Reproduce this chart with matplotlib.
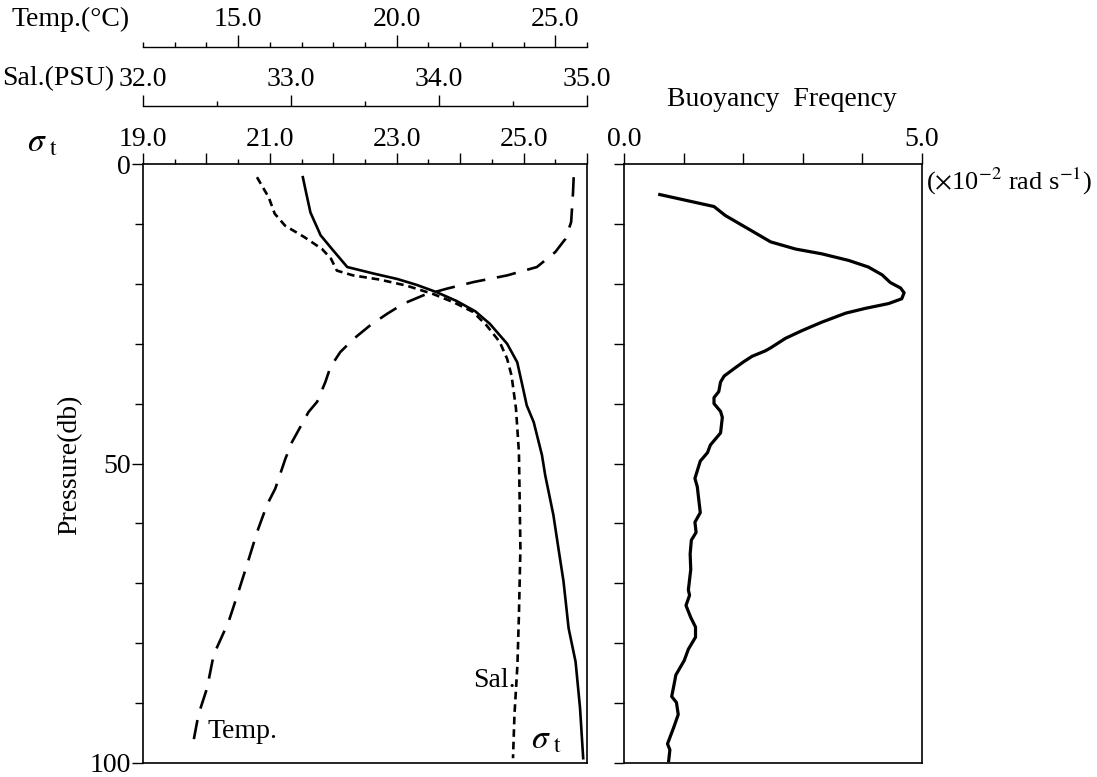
import matplotlib
matplotlib.use('Agg')
import matplotlib.pyplot as plt
from matplotlib.ticker import MultipleLocator

plt.rcParams['font.family'] = ['Liberation Serif', 'DejaVu Serif']
plt.rcParams['mathtext.fontset'] = 'stix'
plt.rcParams['lines.scale_dashes'] = False

# ---------------- data ----------------
sigma_depth = [2.2, 4.7, 8.1, 11.9, 14.2, 17.2, 18.3, 19.2, 20.2, 21.4, 22.9, 24.6, 26.7,
               30.0, 33.1, 36.9, 40.3, 43.1, 48.6, 51.9, 58.6, 64.2, 69.7, 77.5, 83.1, 90.8, 99.2]
sigma_val = [21.52, 21.57, 21.64, 21.80, 21.98, 22.22, 22.64, 23.01, 23.32, 23.63, 23.95, 24.24, 24.47,
             24.74, 24.90, 24.98, 25.05, 25.16, 25.29, 25.34, 25.47, 25.55, 25.63, 25.71, 25.82, 25.89, 25.94]

sal_depth = [2.2, 5.6, 8.3, 10.3, 12.2, 14.2, 15.8, 17.8, 18.6, 19.3, 20.3, 21.7, 23.1, 24.7, 26.9,
             29.7, 32.5, 35.3, 40.8, 48.1, 64.2, 75.3, 83.6, 91.9, 99.2]
sal_val = [32.77, 32.85, 32.89, 32.96, 33.09, 33.21, 33.27, 33.31, 33.42, 33.60, 33.78, 33.96, 34.10,
           34.23, 34.32, 34.41, 34.46, 34.49, 34.52, 34.54, 34.55, 34.54, 34.53, 34.51, 34.50]

temp_depth = [2.2, 4.7, 9.7, 12.5, 14.7, 17.2, 18.6, 19.7, 20.8, 21.9, 23.3, 25.0, 26.9, 29.2, 31.4,
              33.9, 36.4, 39.7, 41.4, 46.4, 49.2, 54.2, 56.9, 61.4, 66.9, 71.4, 76.4, 81.9, 87.5,
              91.9, 97.8]
temp_val = [25.58, 25.56, 25.50, 25.32, 25.00, 24.42, 23.48, 22.43, 21.59, 20.85, 20.22, 19.70, 19.17,
            18.64, 18.22, 17.91, 17.75, 17.49, 17.22, 16.70, 16.49, 16.17, 15.91, 15.60, 15.28, 15.01,
            14.70, 14.23, 14.02, 13.75, 13.54]

bv_depth = [5.1, 7.1, 8.6, 11.2, 13.0, 14.2, 15.0, 16.1, 17.2, 18.5, 19.8, 20.7, 21.5, 22.5, 23.3,
            24.1, 24.9, 26.4, 27.8, 29.1, 30.7, 31.2, 32.1, 33.0, 34.0, 35.4, 36.4, 38.0, 39.0, 40.0,
            41.3, 42.3, 44.9, 46.9, 48.2, 49.6, 51.2, 52.5, 53.9, 56.5, 58.2, 59.8, 61.5, 62.8, 65.1,
            67.7, 71.1, 72.0, 73.7, 75.7, 77.3, 79.0, 81.0, 82.9, 85.3, 86.9, 88.9, 89.9, 91.9, 93.9,
            96.8, 97.8, 99.6]
bv_val = [0.60, 1.51, 1.70, 2.15, 2.46, 2.88, 3.32, 3.77, 4.10, 4.33, 4.47, 4.64, 4.70, 4.66, 4.44,
          4.05, 3.72, 3.32, 2.99, 2.71, 2.46, 2.37, 2.15, 2.01, 1.87, 1.68, 1.62, 1.59, 1.51, 1.51,
          1.62, 1.65, 1.62, 1.45, 1.40, 1.28, 1.23, 1.19, 1.23, 1.26, 1.28, 1.19, 1.21, 1.13, 1.11,
          1.12, 1.08, 1.10, 1.04, 1.12, 1.20, 1.20, 1.08, 1.01, 0.87, 0.84, 0.80, 0.88, 0.91, 0.84,
          0.73, 0.77, 0.75]

sigma_ticks = [19, 20, 21, 22, 23, 24, 25, 26]
sigma_labels = ['19.0', '', '21.0', '', '23.0', '', '25.0', '']
temp_major = [15, 20, 25]
temp_labels = ['15.0', '20.0', '25.0']
sal_ticks = [32, 33, 34, 35]
sal_labels = ['32.0', '33.0', '34.0', '35.0']
bv_ticks = [0, 1, 2, 3, 4, 5]
bv_labels = ['0.0', '', '', '', '', '5.0']
depth_major = [0, 50, 100]
depth_labels = ['0', '50', '100']

FS = 20
W, H = 1097, 777

fig = plt.figure(figsize=(W / 100, H / 100), dpi=100)

top, bot = 164, 763
span = bot - top
ax = fig.add_axes([143 / W, 1 - bot / H, 444 / W, span / H])
ax.set_xlim(19, 26)
ax.set_ylim(100, 0)
for s in ax.spines.values():
    s.set_linewidth(1.2)
ax.plot(sigma_val, sigma_depth, color='black', lw=1.9)

# temperature axis
ax_t = ax.twiny()
ax_t.set_xlim(12, 26)
ax_t.set_ylim(100, 0)
ax_t.spines['top'].set_position(('axes', 1 + (top - 47) / span))
for s in ['left', 'right', 'bottom']:
    ax_t.spines[s].set_visible(False)
ax_t.spines['top'].set_linewidth(1.0)
ax_t.set_xticks(temp_major)
ax_t.set_xticklabels(temp_labels)
ax_t.xaxis.set_minor_locator(MultipleLocator(1))
ax_t.tick_params(axis='x', which='major', direction='out', length=9, width=1, pad=2, labelsize=FS)
ax_t.tick_params(axis='x', which='minor', direction='out', length=3.5, width=1)
ax_t.plot(temp_val, temp_depth, color='black', lw=1.9, dashes=(14, 8.5))

# salinity axis
ax_s = ax.twiny()
ax_s.set_xlim(32, 35)
ax_s.set_ylim(100, 0)
ax_s.spines['top'].set_position(('axes', 1 + (top - 106) / span))
for s in ['left', 'right', 'bottom']:
    ax_s.spines[s].set_visible(False)
ax_s.spines['top'].set_linewidth(1.0)
ax_s.set_xticks(sal_ticks)
ax_s.set_xticklabels(sal_labels)
ax_s.xaxis.set_minor_locator(MultipleLocator(0.5))
ax_s.tick_params(axis='x', which='major', direction='out', length=8, width=1, pad=2, labelsize=FS)
ax_s.tick_params(axis='x', which='minor', direction='out', length=3.5, width=1)
ax_s.plot(sal_val, sal_depth, color='black', lw=1.9, dashes=(5.5, 3.5))

# sigma axis on top of main panel (set after twiny, which resets it)
ax.xaxis.set_ticks_position('top')
ax.set_xticks(sigma_ticks)
ax.set_xticklabels(sigma_labels)
ax.xaxis.set_minor_locator(MultipleLocator(0.5))
ax.tick_params(axis='x', which='major', direction='out', length=8, width=1, pad=1,
               labelsize=FS, top=True, bottom=False, labeltop=True, labelbottom=False)
ax.tick_params(axis='x', which='minor', direction='out', length=3.5, width=1, top=True, bottom=False)
ax.set_yticks(depth_major)
ax.set_yticklabels(depth_labels)
ax.yaxis.set_minor_locator(MultipleLocator(10))
ax.tick_params(axis='y', which='major', direction='out', length=8, width=1, pad=1, labelsize=FS)
ax.tick_params(axis='y', which='minor', direction='out', length=6, width=1)

# labels in left panel
ax.text(20.02, 94.7, 'Temp.', fontsize=FS, va='center', ha='left')
ax.text(24.2, 86.2, 'Sal.', fontsize=FS, va='center', ha='left')
ax.text(25.12, 96.2, r'$\sigma_{\rm \ t}$', fontsize=FS + 4, va='center', ha='left')

fig.text(70 / W, 1 - 465 / H, 'Pressure(db)', rotation=90, fontsize=FS, va='center', ha='center')
fig.text(11 / W, 1 - 19 / H, 'Temp.(°C)', fontsize=FS, va='center', ha='left')
fig.text(2 / W, 1 - 79 / H, 'Sal.(PSU)', fontsize=FS, va='center', ha='left')
fig.text(27 / W, 1 - 143 / H, r'$\sigma_{\rm \ t}$', fontsize=FS + 4, va='center', ha='left')

# buoyancy panel
ax2 = fig.add_axes([624 / W, 1 - bot / H, 298 / W, span / H])
ax2.set_xlim(0, 5)
ax2.set_ylim(100, 0)
for s in ax2.spines.values():
    s.set_linewidth(1.2)
ax2.plot(bv_val, bv_depth, color='black', lw=2.3)
ax2.xaxis.set_ticks_position('top')
ax2.set_xticks(bv_ticks)
ax2.set_xticklabels(bv_labels)
ax2.tick_params(axis='x', which='major', direction='out', length=8, width=1, pad=1, labelsize=FS)
ax2.set_yticks(list(range(0, 101, 10)))
ax2.set_yticklabels([])
ax2.tick_params(axis='y', which='major', direction='out', length=7, width=1)

fig.text(782 / W, 1 - 100 / H, 'Buoyancy  Freqency', fontsize=FS, va='center', ha='center')
fig.text(926 / W, 1 - 181 / H, r'($\times$10$^{-2}$ rad s$^{-1}$)', fontsize=FS - 1, va='center', ha='left')

fig.savefig('out.png', dpi=100)
